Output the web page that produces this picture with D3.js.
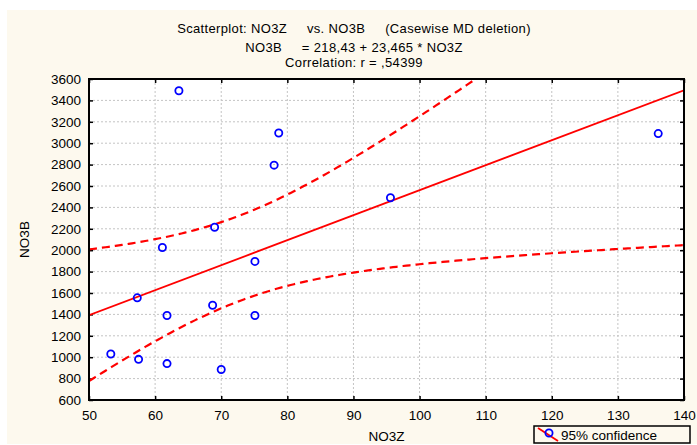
<!DOCTYPE html>
<html>
<head>
<meta charset="utf-8">
<script src="https://cdn.jsdelivr.net/npm/d3@7"></script>
<style>
  html, body { margin: 0; padding: 0; background: #fff; }
  svg text { font-family: "Liberation Sans", Arial, sans-serif; fill: #000; }
</style>
</head>
<body>
<svg id="chart" width="697" height="445"></svg>
<script>
// ── Data ──────────────────────────────────────────────────────────────────────
const no3z = [63.6, 78.7, 78.0, 69.0, 61.1, 75.1, 57.3, 68.7, 61.8, 75.1, 53.3, 57.5, 61.8, 70.0, 95.6, 136.1];
const no3b = [3490, 3095, 2795, 2215, 2025, 1895, 1555, 1485, 1390, 1390, 1030, 980, 940, 885, 2490, 3090];

const xTicks = [50, 60, 70, 80, 90, 100, 110, 120, 130, 140];
const yTicks = d3.range(600, 3601, 200);

const titleLines = [
  "Scatterplot: NO3Z     vs. NO3B     (Casewise MD deletion)",
  "NO3B     = 218,43 + 23,465 * NO3Z",
  "Correlation: r = ,54399"
];
const T975 = 2.1448; // t(0.975, n-2 = 14)

// ── Fit + 95% band for the mean ───────────────────────────────────────────────
const pts = no3z.map((x, i) => ({ x, y: no3b[i] }));
const n = pts.length;
const mx = d3.mean(no3z), my = d3.mean(no3b);
const sxx = d3.sum(no3z, x => (x - mx) ** 2);
const sxy = d3.sum(pts, p => (p.x - mx) * (p.y - my));
const slope = sxy / sxx, icpt = my - slope * mx;
const se = Math.sqrt(d3.sum(pts, p => (p.y - icpt - slope * p.x) ** 2) / (n - 2));
const half = x => T975 * se * Math.sqrt(1 / n + (x - mx) ** 2 / sxx);

// ── Layout ────────────────────────────────────────────────────────────────────
const svg = d3.select("#chart");
const L = 89, R = 684, T = 79, B = 400;
const x = d3.scaleLinear().domain([50, 140]).range([L, R]);
const y = d3.scaleLinear().domain([600, 3600]).range([B, T]);

svg.append("rect").attr("x", 7).attr("y", 10).attr("width", 690).attr("height", 434)
  .attr("fill", "#fdf9ee");
svg.append("rect").attr("x", L).attr("y", T).attr("width", R - L).attr("height", B - T)
  .attr("fill", "#fff");

// titles
svg.selectAll("text.title").data(titleLines).join("text")
  .attr("class", "title")
  .attr("x", 354).attr("y", (d, i) => [33, 52, 67][i])
  .attr("text-anchor", "middle")
  .style("font-size", "13px").style("letter-spacing", "0.35px").style("white-space", "pre")
  .text(d => d);

// grid
const grid = svg.append("g").attr("stroke", "#c4c4c4").attr("stroke-width", 1)
  .attr("stroke-dasharray", "2,2");
grid.selectAll("line.v").data(xTicks.slice(1, -1)).join("line")
  .attr("x1", d => x(d)).attr("x2", d => x(d)).attr("y1", T).attr("y2", B);
grid.selectAll("line.h").data(yTicks.slice(1, -1)).join("line")
  .attr("y1", d => y(d)).attr("y2", d => y(d)).attr("x1", L).attr("x2", R);

// axes (inward ticks on all four sides)
const tickFont = g => g.selectAll("text").style("font-size", "13.5px")
  .attr("font-family", "Liberation Sans, Arial, sans-serif");
svg.append("g").attr("transform", `translate(0,${B})`)
  .call(d3.axisBottom(x).tickValues(xTicks).tickSize(-4).tickPadding(10).tickFormat(d3.format("d")))
  .call(g => g.select(".domain").remove()).call(tickFont);
svg.append("g").attr("transform", `translate(${L},0)`)
  .call(d3.axisLeft(y).tickValues(yTicks).tickSize(-4).tickPadding(8).tickFormat(d3.format("d")))
  .call(g => g.select(".domain").remove()).call(tickFont);
svg.append("g").attr("transform", `translate(0,${T})`)
  .call(d3.axisTop(x).tickValues(xTicks).tickSize(-4).tickFormat(""))
  .call(g => g.select(".domain").remove());
svg.append("g").attr("transform", `translate(${R},0)`)
  .call(d3.axisRight(y).tickValues(yTicks).tickSize(-4).tickFormat(""))
  .call(g => g.select(".domain").remove());
svg.selectAll(".tick line").attr("stroke", "#000").attr("stroke-width", 1.5);

// clip
svg.append("clipPath").attr("id", "plot-clip")
  .append("rect").attr("x", L).attr("y", T).attr("width", R - L).attr("height", B - T);
const plot = svg.append("g").attr("clip-path", "url(#plot-clip)");

const xs = d3.range(50, 140.01, 0.5);
const line = d3.line().x(d => x(d[0])).y(d => y(d[1]));

plot.append("path")
  .attr("d", line([[50, icpt + slope * 50], [140, icpt + slope * 140]]))
  .attr("fill", "none").attr("stroke", "#ff0000").attr("stroke-width", 1.8);

[1, -1].forEach(sgn => {
  plot.append("path")
    .attr("d", line(xs.map(v => [v, icpt + slope * v + sgn * half(v)])))
    .attr("fill", "none").attr("stroke", "#ff0000").attr("stroke-width", 2.2)
    .attr("stroke-dasharray", "8,5");
});

plot.selectAll("circle.pt").data(pts).join("circle")
  .attr("class", "pt")
  .attr("cx", d => x(d.x)).attr("cy", d => y(d.y)).attr("r", 3.6)
  .attr("fill", "none").attr("stroke", "#0000ff").attr("stroke-width", 1.8);

// frame
svg.append("rect").attr("x", L).attr("y", T).attr("width", R - L).attr("height", B - T)
  .attr("fill", "none").attr("stroke", "#000").attr("stroke-width", 2);

// axis titles
svg.append("text").attr("x", (L + R) / 2).attr("y", 441).attr("text-anchor", "middle")
  .style("font-size", "13.5px").text("NO3Z");
svg.append("text").attr("transform", `translate(29,${(T + B) / 2}) rotate(-90)`)
  .attr("text-anchor", "middle").style("font-size", "13.5px").text("NO3B");

// legend
const lg = svg.append("g");
lg.append("rect").attr("x", 534).attr("y", 426).attr("width", 156).attr("height", 17)
  .attr("fill", "none").attr("stroke", "#000").attr("stroke-width", 1.5);
lg.append("line").attr("x1", 538).attr("y1", 428).attr("x2", 558).attr("y2", 441)
  .attr("stroke", "#ff0000").attr("stroke-width", 1.8);
lg.append("circle").attr("cx", 549).attr("cy", 433).attr("r", 3.6)
  .attr("fill", "none").attr("stroke", "#0000ff").attr("stroke-width", 1.8);
lg.append("text").attr("x", 561).attr("y", 439.5).style("font-size", "13.5px")
  .text("95% confidence");
</script>
</body>
</html>
